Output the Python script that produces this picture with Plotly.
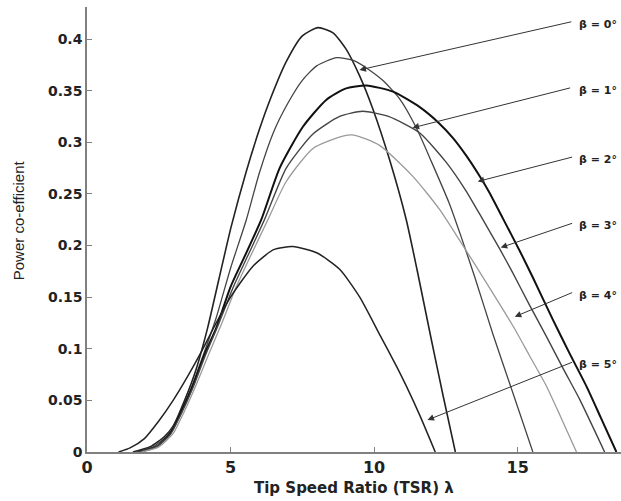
import plotly.graph_objects as go

# ---- data ----
lam1 = [1.6, 2.2, 2.7, 3.0, 3.4, 3.8, 4.2, 4.6, 5.02, 5.55, 6.0, 6.36, 6.94, 7.5, 8.05, 8.57, 9.03, 9.5, 9.96, 10.54, 11.12, 11.5, 12.0, 12.4, 12.83]
cp1 = [0.0, 0.005, 0.015, 0.025, 0.05, 0.08, 0.12, 0.168, 0.218, 0.272, 0.312, 0.34, 0.378, 0.403, 0.411, 0.406, 0.39, 0.364, 0.332, 0.283, 0.225, 0.176, 0.108, 0.055, 0.0]

lam2 = [1.7, 2.3, 2.8, 3.2, 3.6, 4.0, 4.5, 5.0, 5.55, 6.0, 6.5, 7.0, 7.5, 8.0, 8.7, 9.3, 9.73, 10.3, 10.89, 11.47, 12.0, 12.63, 13.0, 13.5, 14.14, 14.8, 15.53]
cp2 = [0.0, 0.005, 0.016, 0.035, 0.06, 0.09, 0.13, 0.178, 0.225, 0.27, 0.31, 0.338, 0.36, 0.374, 0.382, 0.379, 0.372, 0.36, 0.342, 0.314, 0.281, 0.24, 0.211, 0.17, 0.114, 0.06, 0.0]

lam3 = [1.8, 2.4, 2.9, 3.3, 3.7, 4.1, 4.5, 5.0, 5.5, 6.07, 6.71, 7.52, 8.33, 9.0, 9.73, 10.66, 11.59, 12.28, 12.75, 13.21, 13.68, 14.0, 14.49, 15.07, 15.53, 16.23, 16.8, 17.39, 17.9, 18.44]
cp3 = [0.0, 0.005, 0.018, 0.04, 0.065, 0.095, 0.12, 0.16, 0.19, 0.225, 0.275, 0.315, 0.341, 0.352, 0.355, 0.349, 0.334, 0.318, 0.304, 0.287, 0.267, 0.252, 0.226, 0.195, 0.169, 0.128, 0.096, 0.064, 0.033, 0.0]

lam4 = [1.8, 2.4, 2.9, 3.3, 3.7, 4.1, 4.6, 5.1, 5.6, 6.18, 6.94, 7.87, 8.8, 9.6, 10.5, 11.59, 12.5, 13.2, 13.79, 14.37, 14.84, 15.4, 16.0, 16.6, 17.16, 18.03]
cp4 = [0.0, 0.005, 0.017, 0.038, 0.063, 0.092, 0.125, 0.16, 0.19, 0.225, 0.275, 0.308, 0.325, 0.33, 0.325, 0.309, 0.281, 0.253, 0.225, 0.197, 0.173, 0.143, 0.112, 0.08, 0.051, 0.0]

lam5 = [1.9, 2.5, 3.0, 3.4, 3.8, 4.2, 4.7, 5.2, 5.7, 6.3, 6.94, 7.87, 8.91, 9.3, 10.19, 11.35, 12.28, 12.98, 14.0, 14.84, 15.4, 16.0, 16.5, 17.05]
cp5 = [0.0, 0.005, 0.018, 0.04, 0.065, 0.092, 0.125, 0.16, 0.19, 0.225, 0.262, 0.294, 0.306, 0.307, 0.297, 0.267, 0.235, 0.205, 0.16, 0.122, 0.094, 0.064, 0.034, 0.0]

lam6 = [1.1, 1.5, 2.0, 2.5, 3.0, 3.5, 4.0, 4.5, 5.0, 5.78, 6.5, 7.17, 8.0, 8.8, 9.5, 10.19, 10.8, 11.12, 11.6, 12.13]
cp6 = [0.0, 0.004, 0.013, 0.03, 0.05, 0.073, 0.098, 0.125, 0.15, 0.18, 0.196, 0.199, 0.193, 0.177, 0.15, 0.114, 0.082, 0.064, 0.035, 0.0]

beta_labels = ["β = 0°", "β = 1°", "β = 2°", "β = 3°", "β = 4°", "β = 5°"]
# arrow tip (lambda, cp) and tail (lambda, cp) positions
tip_lam = [9.49, 11.34, 13.61, 14.41, 14.90, 11.86]
tip_cp = [0.370, 0.314, 0.262, 0.198, 0.131, 0.031]
tail_lam = [16.92, 16.88, 16.95, 16.95, 16.95, 16.95]
tail_cp = [0.417, 0.353, 0.286, 0.222, 0.155, 0.0875]

xticks = [0, 5, 10, 15]
yticks = [0, 0.05, 0.1, 0.15, 0.2, 0.25, 0.3, 0.35, 0.4]

styles = [("#222222", 1.6), ("#444444", 1.3), ("#111111", 2.0),
          ("#444444", 1.4), ("#9a9a9a", 1.3), ("#222222", 1.5)]
series = [(lam1, cp1), (lam2, cp2), (lam3, cp3), (lam4, cp4), (lam5, cp5), (lam6, cp6)]

fig = go.Figure()
for (lx, cy), (col, w) in zip(series, styles):
    fig.add_trace(go.Scatter(x=lx, y=cy, mode="lines", line=dict(color=col, width=w, shape="spline", smoothing=0.6),
                             showlegend=False, hoverinfo="skip"))

annotations = []
for lab, tx, ty, ax, ay in zip(beta_labels, tip_lam, tip_cp, tail_lam, tail_cp):
    annotations.append(dict(x=tx, y=ty, ax=ax, ay=ay, xref="x", yref="y", axref="x", ayref="y",
                            text="", showarrow=True, arrowhead=2, arrowsize=1.3, arrowwidth=1,
                            arrowcolor="#333333"))
    annotations.append(dict(x=1.0, y=ay - 0.003, xref="paper", yref="y", text=lab, showarrow=False,
                            xanchor="right", yanchor="middle", xshift=-2,
                            font=dict(family="DejaVu Sans", size=11, color="#222222", weight="bold")))

annotations.append(dict(x=0.5, y=-0.082, xref="paper", yref="paper", xanchor="center", yanchor="middle",
                        text="Tip Speed Ratio (TSR) λ", showarrow=False,
                        font=dict(family="DejaVu Sans", size=15, color="#222222", weight="bold")))
annotations.append(dict(x=-0.128, y=0.52, xref="paper", yref="paper", xanchor="center", yanchor="middle",
                        text="Power co-efficient", showarrow=False, textangle=-90,
                        font=dict(family="Liberation Sans", size=15, color="#222222")))

axis_common = dict(showgrid=False, zeroline=False, showline=True, linecolor="#808080", linewidth=1.5,
                   ticks="inside", ticklen=5, tickcolor="#808080", tickwidth=1, mirror=False)

fig.update_layout(
    width=621, height=501,
    margin=dict(l=87, r=0, t=7, b=49),
    paper_bgcolor="white", plot_bgcolor="white",
    xaxis=dict(range=[0, 18.6], tickvals=xticks, ticktext=[str(v) for v in xticks],
               tickfont=dict(family="DejaVu Sans", size=16, color="#222222", weight="bold"), **axis_common),
    yaxis=dict(range=[0, 0.431], tickvals=yticks, ticktext=["0", "0.05", "0.1", "0.15", "0.2", "0.25", "0.3", "0.35", "0.4"],
               tickfont=dict(family="DejaVu Sans", size=14, color="#222222", weight="bold"), **axis_common),
    annotations=annotations,
)

fig.write_html("out.html")
